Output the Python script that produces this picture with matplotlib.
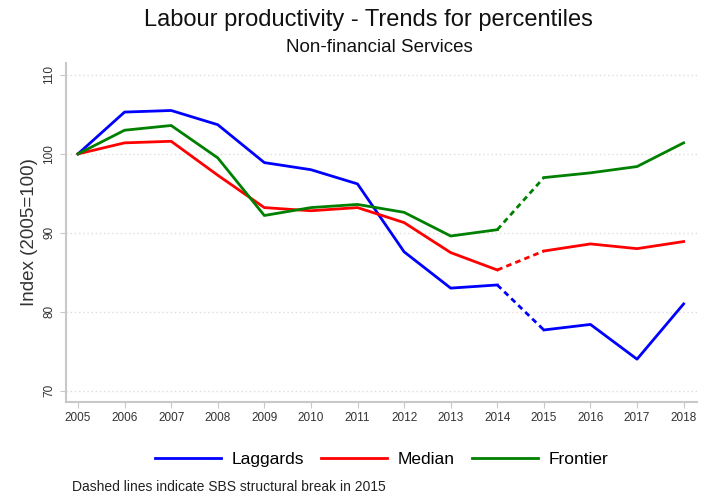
import matplotlib.pyplot as plt
import matplotlib as mpl

mpl.rcParams["font.family"] = ["Liberation Sans", "DejaVu Sans"]

years = list(range(2005, 2019))
laggards = [100, 105.3, 105.5, 103.7, 98.9, 98.0, 96.2, 87.6, 83.0, 83.4, 77.7, 78.4, 74.0, 81.0]
median = [100, 101.4, 101.6, 97.3, 93.2, 92.8, 93.2, 91.3, 87.5, 85.3, 87.7, 88.6, 88.0, 88.9]
frontier = [100, 103.0, 103.6, 99.5, 92.2, 93.2, 93.6, 92.6, 89.6, 90.4, 97.0, 97.6, 98.4, 101.4]
yticks = [70, 80, 90, 100, 110]

BREAK = years.index(2014)
GRAY = "#c8c8c8"

fig = plt.figure(figsize=(7.16, 5.01), dpi=100)
ax = fig.add_axes([0.092, 0.198, 0.881, 0.676])

series = [("Laggards", laggards, "#0000ff"), ("Median", median, "#ff0000"), ("Frontier", frontier, "#008000")]
for name, vals, col in series:
    # solid before and after the break, dashed across 2014-2015
    ax.plot(years[:BREAK + 1], vals[:BREAK + 1], color=col, lw=2, label=name)
    ax.plot(years[BREAK:BREAK + 2], vals[BREAK:BREAK + 2], color=col, lw=2, ls=(0, (2, 1.5)))
    ax.plot(years[BREAK + 1:], vals[BREAK + 1:], color=col, lw=2)

ax.set_xlim(2004.74, 2018.28)
ax.set_ylim(68.6, 111.5)
ax.set_xticks(years)
ax.set_yticks(yticks)
ax.set_yticklabels([str(t) for t in yticks], rotation=90, va="center")
ax.tick_params(axis="both", colors=GRAY, labelcolor="#333333", labelsize=8.5, length=4, direction="out")
ax.grid(axis="y", color="#dddddd", ls=(0, (1, 2)), lw=1)
ax.set_axisbelow(True)
for side in ("top", "right"):
    ax.spines[side].set_visible(False)
for side in ("left", "bottom"):
    ax.spines[side].set_color(GRAY)
    ax.spines[side].set_linewidth(1.5)

ax.set_ylabel("Index (2005=100)", fontsize=13.5, color="#333333", labelpad=4)

fig.text(0.514, 0.96, "Labour productivity - Trends for percentiles", ha="center", va="center", fontsize=17, color="#111111")
fig.text(0.53, 0.906, "Non-financial Services", ha="center", va="center", fontsize=13.5, color="#111111")

fig.legend(loc="center", bbox_to_anchor=(0.533, 0.083), ncol=3, frameon=False, fontsize=12.5,
           handlelength=3.8, columnspacing=1.0, handletextpad=0.6)
fig.text(0.1, 0.02, "Dashed lines indicate SBS structural break in 2015", fontsize=10, color="#222222")

fig.savefig("out.png", dpi=100)
